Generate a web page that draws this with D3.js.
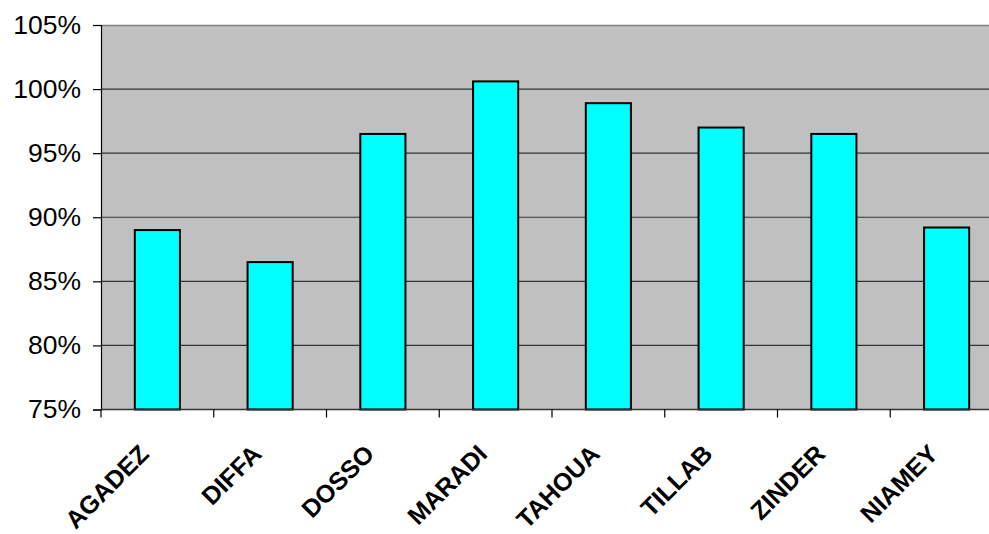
<!DOCTYPE html>
<html><head><meta charset="utf-8">
<script src="https://cdn.jsdelivr.net/npm/d3@7"></script>
<style>body{margin:0;background:#fff}svg{display:block}</style>
</head><body>
<script>
const categories = ["AGADEZ","DIFFA","DOSSO","MARADI","TAHOUA","TILLAB","ZINDER","NIAMEY"];
const values = [0.890, 0.865, 0.965, 1.006, 0.989, 0.970, 0.965, 0.892];
const yTicks = [0.75,0.80,0.85,0.90,0.95,1.00,1.05];

const W=989,H=534;
const m={left:101,top:25,right:1003,bottom:409.5};
const svg=d3.select("body").append("svg").attr("width",W).attr("height",H);
const x=d3.scaleBand().domain(categories).range([m.left,m.right]).paddingInner(0.6).paddingOuter(0.3);
const y=d3.scaleLinear().domain([0.75,1.05]).range([m.bottom,m.top]);

svg.append("rect").attr("x",m.left).attr("y",m.top).attr("width",m.right-m.left).attr("height",m.bottom-m.top).attr("fill","#c0c0c0");
svg.append("line").attr("x1",m.left).attr("x2",m.right).attr("y1",m.top+0.5).attr("y2",m.top+0.5).attr("stroke","#808080").attr("stroke-width",1.5);
svg.append("g").selectAll("line").data(yTicks.slice(1,-1)).join("line")
  .attr("x1",m.left).attr("x2",m.right).attr("y1",d=>y(d)).attr("y2",d=>y(d))
  .attr("stroke","#333").attr("stroke-width",1.2);

svg.append("g").selectAll("rect").data(categories).join("rect")
  .attr("x",d=>x(d)).attr("width",x.bandwidth())
  .attr("y",(d,i)=>y(values[i])).attr("height",(d,i)=>y(0.75)-y(values[i]))
  .attr("fill","#00ffff").attr("stroke","#000").attr("stroke-width",2);

const yAxis=svg.append("g").attr("transform",`translate(${m.left},0)`)
  .call(d3.axisLeft(y).tickValues(yTicks).tickFormat(d3.format(".0%")).tickSize(8).tickPadding(12));
yAxis.select(".domain").attr("stroke","#000").attr("stroke-width",1.2);
yAxis.selectAll(".tick line").attr("stroke","#000").attr("stroke-width",1.2);
yAxis.selectAll("text").attr("font-family","Arial, 'Liberation Sans', sans-serif").attr("font-size",26.5).attr("fill","#000");

// x axis
const xb=d3.scaleLinear().domain([0,categories.length]).range([m.left,m.right]);
const xg=svg.append("g");
xg.append("line").attr("x1",m.left).attr("x2",m.right).attr("y1",m.bottom).attr("y2",m.bottom).attr("stroke","#333").attr("stroke-width",1.5);
xg.selectAll("line.t").data(d3.range(categories.length+1)).join("line").attr("class","t")
  .attr("x1",d=>xb(d)).attr("x2",d=>xb(d)).attr("y1",m.bottom).attr("y2",m.bottom+8).attr("stroke","#000").attr("stroke-width",1.2);
xg.selectAll("text").data(categories).join("text")
  .attr("transform",d=>`translate(${x(d)+x.bandwidth()/2-7},${m.bottom+46}) rotate(-45)`)
  .attr("text-anchor","end")
  .attr("font-family","Arial, 'Liberation Sans', sans-serif").attr("font-weight","bold").attr("font-size",25)
  .text(d=>d);
</script>
</body></html>
